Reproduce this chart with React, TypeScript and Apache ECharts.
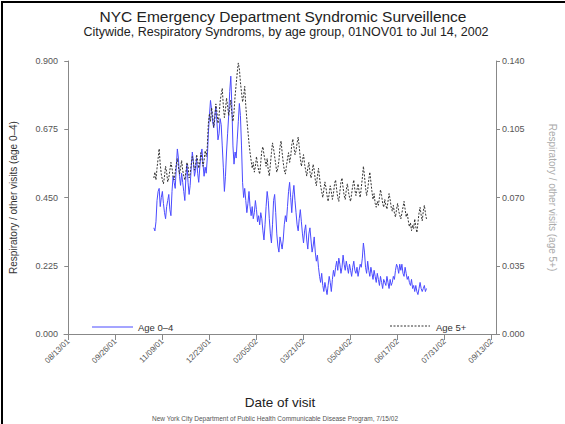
import React, { useEffect, useRef } from "react";
import * as echarts from "echarts";

// Day 0 = 08/13/01; data start 11/01/01 = day 80 (daily through 07/14/02)
const startDay = 80;
const tickLabels = [
  "08/13/01", "09/26/01", "11/09/01", "12/23/01", "02/05/02",
  "03/21/02", "05/04/02", "06/17/02", "07/31/02", "09/13/02",
];
const tickStep = 44;
const seriesNames = ["Age 0–4", "Age 5+"];

const age04 = [
  0.35, 0.34, 0.37, 0.44, 0.47, 0.48, 0.42,
  0.45, 0.47, 0.43, 0.40, 0.38, 0.42, 0.44,
  0.46, 0.41, 0.39, 0.47, 0.52, 0.50, 0.48,
  0.55, 0.61, 0.58, 0.52, 0.49, 0.53, 0.50,
  0.47, 0.44, 0.52, 0.56, 0.50, 0.46, 0.49,
  0.55, 0.60, 0.57, 0.52, 0.54, 0.58, 0.53,
  0.50, 0.55, 0.59, 0.61, 0.56, 0.52, 0.55,
  0.53, 0.58, 0.66, 0.72, 0.77, 0.74, 0.70,
  0.68, 0.72, 0.75, 0.70, 0.64, 0.66, 0.71,
  0.69, 0.62, 0.55, 0.47, 0.52, 0.60, 0.66,
  0.72, 0.80, 0.85, 0.75, 0.62, 0.56, 0.60,
  0.58, 0.64, 0.70, 0.76, 0.72, 0.62, 0.50,
  0.45, 0.48, 0.44, 0.40, 0.43, 0.47, 0.42,
  0.39, 0.42, 0.38, 0.40, 0.44, 0.41, 0.37,
  0.39, 0.36, 0.40, 0.38, 0.34, 0.31, 0.36,
  0.42, 0.47, 0.44, 0.38, 0.33, 0.30, 0.36,
  0.44, 0.46, 0.40, 0.33, 0.29, 0.27, 0.32,
  0.30, 0.28, 0.31, 0.36, 0.39, 0.37, 0.42,
  0.47, 0.50, 0.45, 0.40, 0.46, 0.49, 0.44,
  0.40, 0.36, 0.34, 0.38, 0.41, 0.37, 0.33,
  0.30, 0.34, 0.36, 0.31, 0.28, 0.33, 0.35,
  0.31, 0.27, 0.29, 0.32, 0.27, 0.24, 0.26,
  0.22, 0.19, 0.17, 0.20, 0.16, 0.14, 0.17,
  0.15, 0.13, 0.16, 0.19, 0.17, 0.14, 0.18,
  0.21, 0.19, 0.22, 0.24, 0.21, 0.25, 0.23,
  0.20, 0.22, 0.26, 0.23, 0.21, 0.24, 0.22,
  0.20, 0.23, 0.21, 0.19, 0.22, 0.24, 0.21,
  0.20, 0.22, 0.19, 0.21, 0.23, 0.22, 0.25,
  0.30, 0.27, 0.22, 0.20, 0.24, 0.21, 0.19,
  0.22, 0.20, 0.18, 0.21, 0.19, 0.17, 0.20,
  0.18, 0.16, 0.19, 0.17, 0.15, 0.18, 0.17,
  0.16, 0.19, 0.17, 0.15, 0.18, 0.16, 0.17,
  0.19, 0.18, 0.21, 0.23, 0.22, 0.20, 0.23,
  0.21, 0.23, 0.20, 0.19, 0.22, 0.20, 0.18,
  0.19, 0.17, 0.16, 0.18, 0.15, 0.16, 0.14,
  0.16, 0.14, 0.13, 0.15, 0.17, 0.15, 0.14,
  0.15, 0.16, 0.14, 0.15,
];

const age5plus = [
  0.080, 0.083, 0.079, 0.085, 0.090, 0.095, 0.087,
  0.082, 0.079, 0.077, 0.081, 0.086, 0.083, 0.078,
  0.080, 0.084, 0.088, 0.085, 0.081, 0.079, 0.083,
  0.087, 0.090, 0.086, 0.082, 0.085, 0.089, 0.084,
  0.081, 0.079, 0.083, 0.088, 0.086, 0.080, 0.082,
  0.087, 0.091, 0.088, 0.084, 0.086, 0.092, 0.089,
  0.085, 0.088, 0.093, 0.090, 0.086, 0.089, 0.094,
  0.091, 0.096, 0.108, 0.113, 0.109, 0.116, 0.112,
  0.106, 0.110, 0.118, 0.114, 0.108, 0.112, 0.119,
  0.123, 0.126, 0.117, 0.111, 0.115, 0.121, 0.117,
  0.112, 0.116, 0.120, 0.113, 0.109, 0.114, 0.122,
  0.128, 0.134, 0.139, 0.136, 0.129, 0.124, 0.119,
  0.122, 0.127, 0.117, 0.110, 0.104, 0.098, 0.093,
  0.089, 0.085, 0.088, 0.083, 0.086, 0.091, 0.087,
  0.084, 0.082, 0.088, 0.094, 0.096, 0.092, 0.089,
  0.086, 0.090, 0.084, 0.081, 0.087, 0.093, 0.098,
  0.095, 0.091, 0.087, 0.083, 0.085, 0.089, 0.096,
  0.099, 0.093, 0.088, 0.084, 0.082, 0.086, 0.090,
  0.093, 0.088, 0.091, 0.097, 0.100, 0.096, 0.092,
  0.094, 0.098, 0.101, 0.096, 0.090, 0.086, 0.089,
  0.092, 0.087, 0.084, 0.081, 0.085, 0.088, 0.083,
  0.080, 0.083, 0.087, 0.084, 0.079, 0.076, 0.081,
  0.085, 0.080, 0.076, 0.073, 0.070, 0.074, 0.078,
  0.075, 0.071, 0.068, 0.072, 0.076, 0.073, 0.069,
  0.072, 0.077, 0.079, 0.074, 0.070, 0.068, 0.073,
  0.078, 0.080, 0.075, 0.071, 0.069, 0.074, 0.077,
  0.073, 0.070, 0.068, 0.072, 0.076, 0.079, 0.074,
  0.071, 0.074, 0.077, 0.073, 0.070, 0.075, 0.080,
  0.086, 0.081, 0.075, 0.071, 0.074, 0.079, 0.083,
  0.078, 0.073, 0.069, 0.072, 0.067, 0.065, 0.068,
  0.066, 0.070, 0.074, 0.071, 0.067, 0.065, 0.069,
  0.066, 0.064, 0.068, 0.072, 0.069, 0.065, 0.063,
  0.066, 0.062, 0.060, 0.064, 0.067, 0.063, 0.061,
  0.059, 0.062, 0.065, 0.068, 0.064, 0.060, 0.062,
  0.058, 0.055, 0.057, 0.053, 0.056, 0.054, 0.059,
  0.055, 0.052, 0.057, 0.062, 0.065, 0.061, 0.058,
  0.063, 0.066, 0.062, 0.059,
];

const FONT = "'Liberation Sans', Arial, sans-serif";
const BLUE = "#4b4bff";
const DARK = "#333";

export default function App() {
  const ref = useRef<HTMLDivElement>(null);
  useEffect(() => {
    if (!ref.current) return;
    const chart = echarts.init(ref.current, undefined, { renderer: "svg" });
    const tickValues = tickLabels.map((_, i) => i * tickStep);
    const blueData = age04.map((v, i) => [startDay + i, v]);
    const blackData = age5plus.map((v, i) => [startDay + i, v]);
    const txt = (text: string, x: number, y: number, size: number, fill: string, align = "center") => ({
      type: "text",
      x,
      y,
      style: { text, fontFamily: FONT, fontSize: size, fill, align, verticalAlign: "middle" },
    });
    chart.setOption({
      animation: false,
      backgroundColor: "#fff",
      textStyle: { fontFamily: FONT },
      graphic: [
        {
          type: "rect",
          shape: { x: 2, y: 2, width: 700, height: 700 },
          style: { fill: "none", stroke: "#000", lineWidth: 2 },
          silent: true,
        },
        txt("NYC Emergency Department Syndromic Surveillence", 283, 16, 15.5, "#222"),
        txt("Citywide, Respiratory Syndroms, by age group, 01NOV01 to Jul 14, 2002", 286, 32, 12.5, "#222"),
        txt("New York City Department of Public Health Communicable Disease Program, 7/15/02", 275, 418, 6.5, "#555"),
        {
          type: "line",
          shape: { x1: 92, y1: 327, x2: 133, y2: 327 },
          style: { stroke: BLUE, lineWidth: 1 },
        },
        txt(seriesNames[0], 138, 327, 9.5, "#333", "left"),
        {
          type: "line",
          shape: { x1: 390, y1: 326, x2: 430, y2: 326 },
          style: { stroke: DARK, lineWidth: 1, lineDash: [2, 1.5] },
        },
        txt(seriesNames[1], 436, 327, 9.5, "#333", "left"),
      ],
      grid: { left: 63, right: 48, top: 61, bottom: 90, containLabel: false },
      xAxis: {
        type: "value",
        min: -4,
        max: 400,
        name: "Date of visit",
        nameLocation: "middle",
        nameGap: 61,
        nameTextStyle: { fontSize: 13.5, color: "#222", fontFamily: FONT },
        axisLine: { show: true, lineStyle: { color: "#888", width: 1 } },
        axisTick: {
          show: true,
          length: 6,
          customValues: tickValues,
          lineStyle: { color: "#888" },
        },
        axisLabel: {
          customValues: tickValues,
          rotate: 45,
          fontSize: 8,
          color: "#555",
          margin: 6,
          formatter: (v: number) => tickLabels[Math.round(v / tickStep)] ?? "",
        },
        splitLine: { show: false },
      },
      yAxis: [
        {
          type: "value",
          min: 0,
          max: 0.9,
          interval: 0.225,
          position: "left",
          name: "Respiratory / other visits (age 0–4)",
          nameLocation: "middle",
          nameGap: 46,
          nameRotate: 90,
          nameTextStyle: { fontSize: 10, color: "#333", fontFamily: FONT },
          axisLine: { show: true, lineStyle: { color: "#888" } },
          axisTick: { show: true, length: 4, lineStyle: { color: "#888" } },
          axisLabel: {
            fontSize: 9,
            color: "#555",
            margin: 6,
            formatter: (v: number) => v.toFixed(3),
          },
          splitLine: { show: false },
        },
        {
          type: "value",
          min: 0,
          max: 0.14,
          interval: 0.035,
          position: "right",
          name: "Respiratory / other visits (age 5+)",
          nameLocation: "middle",
          nameGap: 51,
          nameRotate: -90,
          nameTextStyle: { fontSize: 10, color: "#aaa", fontFamily: FONT },
          axisLine: { show: true, lineStyle: { color: "#888" } },
          axisTick: { show: true, length: 4, lineStyle: { color: "#888" } },
          axisLabel: {
            fontSize: 9,
            color: "#555",
            margin: 6,
            formatter: (v: number) => v.toFixed(3),
          },
          splitLine: { show: false },
        },
      ],
      series: [
        {
          name: seriesNames[0],
          type: "line",
          yAxisIndex: 0,
          data: blueData,
          symbol: "none",
          lineStyle: { color: BLUE, width: 1 },
          itemStyle: { color: BLUE },
        },
        {
          name: seriesNames[1],
          type: "line",
          yAxisIndex: 1,
          data: blackData,
          symbol: "none",
          lineStyle: { color: DARK, width: 1, type: [2, 1.5] },
          itemStyle: { color: DARK },
        },
      ],
    });
    return () => chart.dispose();
  }, []);
  return <div ref={ref} style={{ width: 565, height: 424, position: "absolute", left: 0, top: 0 }} />;
}
